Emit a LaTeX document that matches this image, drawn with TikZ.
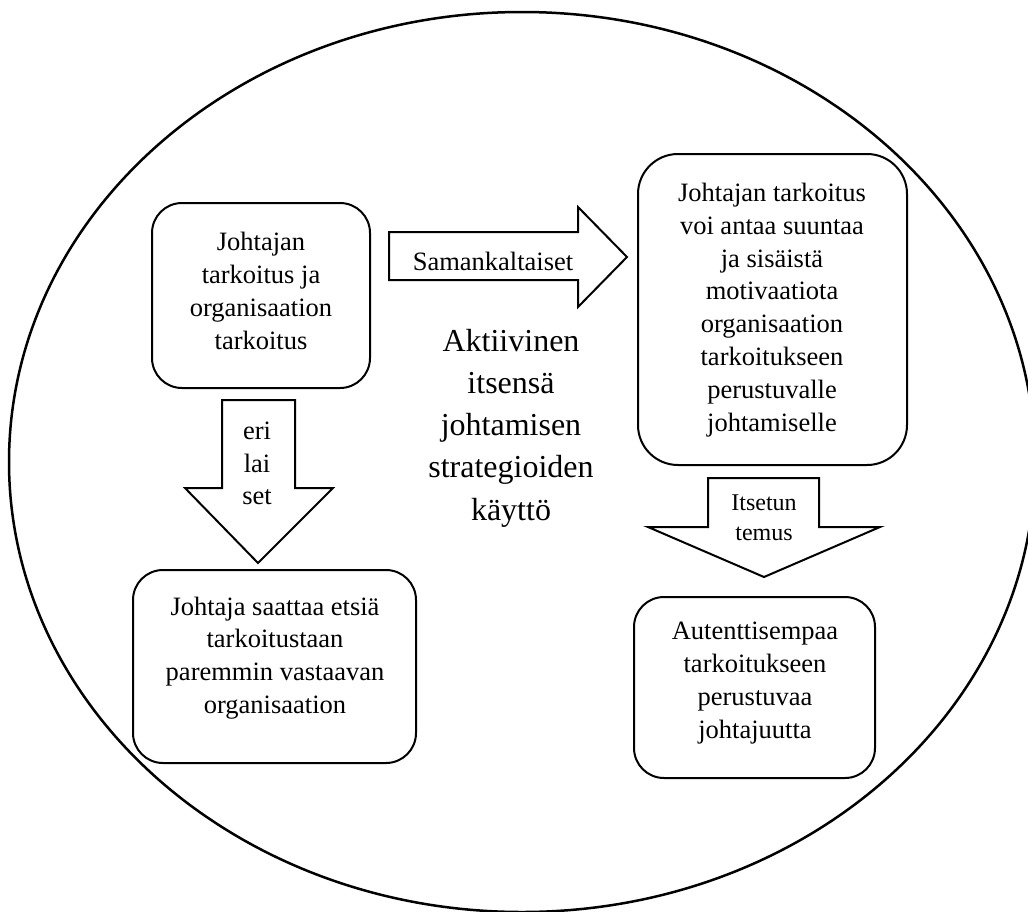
\documentclass[tikz,border=0pt]{standalone}
\usepackage{fontspec}
\setmainfont{Liberation Serif}
\begin{document}
\begin{tikzpicture}[x=1pt,y=-1pt,line width=2pt,
  box/.style={draw,rounded corners=30pt,line width=2pt,inner sep=0pt},
  txt/.style={align=center,inner sep=0pt,font=\fontsize{26.5}{32.8}\selectfont},
  lbl/.style={align=center,inner sep=0pt,font=\fontsize{26.5}{32.5}\selectfont},
  small/.style={align=center,inner sep=0pt,font=\fontsize{24}{30}\selectfont},
  big/.style={align=center,inner sep=0pt,font=\fontsize{32}{42.2}\selectfont},
  blockarrow/.style={draw,line width=2pt,line join=miter,fill=white}]
\useasboundingbox (0,0) rectangle (1028,911);
\clip (0,0) rectangle (1028,911);
\fill[white] (0,0) rectangle (1028,911);
% outer ellipse
\draw[line width=2.5pt] (522,462) ellipse [x radius=513, y radius=450];
% boxes
\node[box,minimum width=218pt,minimum height=185pt] (b1) at (261,295.5) {};
\node[box,minimum width=283pt,minimum height=193pt] (b2) at (274.5,666.5) {};
\node[box,rounded corners=40pt,minimum width=269pt,minimum height=311pt] (b3) at (772.5,309.5) {};
\node[box,minimum width=241pt,minimum height=181pt] (b4) at (754.5,687.5) {};
% texts in boxes
\node[txt] (t1) at (261,291) {Johtajan\\tarkoitus ja\\organisaation\\tarkoitus};
\node[txt] (t2) at (275,658) {Johtaja saattaa etsiä\\tarkoitustaan\\paremmin vastaavan\\organisaation};
\node[txt] (t3) at (772,310) {Johtajan tarkoitus\\voi antaa suuntaa\\ja sisäistä\\motivaatiota\\organisaation\\tarkoitukseen\\perustuvalle\\johtamiselle};
\node[txt] (t4) at (755,683) {Autenttisempaa\\tarkoitukseen\\perustuvaa\\johtajuutta};
% block arrows
\draw[blockarrow] (389,232) -- (578,232) -- (578,207) -- (627,257) -- (578,307) -- (578,280) -- (389,280) -- cycle;
\draw[blockarrow] (222,400) -- (295,400) -- (295,488) -- (333,488) -- (258,563) -- (185,488) -- (222,488) -- cycle;
\draw[blockarrow] (708,478) -- (819,478) -- (819,527) -- (880,527) -- (764,577) -- (648,527) -- (708,527) -- cycle;
% arrow labels
\node[lbl] (l1) at (493,261) {Samankaltaiset};
\node[lbl] (l2) at (257,463.5) {eri\\lai\\set};
\node[small] (l3) at (764,518) {Itsetun\\temus};
% central text
\node[big] (c) at (511,428) {Aktiivinen\\itsensä\\johtamisen\\strategioiden\\käyttö};
\end{tikzpicture}
\end{document}
